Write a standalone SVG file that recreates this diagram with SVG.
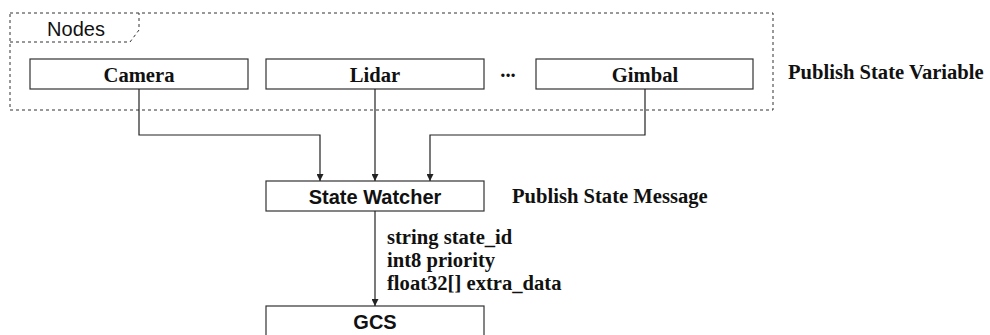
<svg xmlns="http://www.w3.org/2000/svg" width="990" height="335" viewBox="0 0 990 335">
<style>
.box{fill:#fff;stroke:#333;stroke-width:1.2}
.dash{fill:none;stroke:#333;stroke-width:1;stroke-dasharray:3 3}
.serif{font-family:"Liberation Serif","Times New Roman",serif;font-weight:bold;font-size:20.6px;fill:#111}
.sans{font-family:"Liberation Sans",Arial,sans-serif;font-size:20px;fill:#111}
.edge{fill:none;stroke:#222;stroke-width:1.2}
</style>
<defs>
<marker id="arr" viewBox="0 0 10 10" refX="10" refY="5" markerWidth="8" markerHeight="7" markerUnits="userSpaceOnUse" orient="auto">
<path d="M0,0 L10,5 L0,10 Z" fill="#222"/>
</marker>
</defs>
<rect width="990" height="335" fill="#fff"/>
<g id="container">
<rect class="dash" x="10" y="13" width="763" height="97"/>
<path class="dash" d="M10,42 H130 L139,30 V13"/>
<text class="sans" x="76" y="36" text-anchor="middle">Nodes</text>
</g>
<g id="camera">
<rect class="box" x="30" y="59" width="218" height="30"/>
<text class="serif" x="139" y="82" text-anchor="middle">Camera</text>
</g>
<g id="lidar">
<rect class="box" x="266" y="59" width="218" height="30"/>
<text class="serif" x="375" y="82" text-anchor="middle">Lidar</text>
</g>
<g id="ellipsis">
<text class="serif" x="508" y="77" text-anchor="middle">...</text>
</g>
<g id="gimbal">
<rect class="box" x="536" y="59" width="217" height="30"/>
<text class="serif" x="645" y="82" text-anchor="middle">Gimbal</text>
</g>
<g id="label-variable">
<text class="serif" x="788" y="79">Publish State Variable</text>
</g>
<g id="state-watcher">
<rect class="box" x="266" y="181" width="218" height="30"/>
<text class="sans" x="375" y="204" text-anchor="middle" font-weight="bold">State Watcher</text>
</g>
<g id="label-message">
<text class="serif" x="512" y="203">Publish State Message</text>
</g>
<g id="gcs">
<rect class="box" x="266" y="306" width="218" height="40"/>
<text class="sans" x="375" y="329" text-anchor="middle" font-weight="bold">GCS</text>
</g>
<g id="connectors">
<path class="edge" d="M139,89 V135 H320 V181" marker-end="url(#arr)"/>
<path class="edge" d="M375,89 V181" marker-end="url(#arr)"/>
<path class="edge" d="M645,89 V135 H430 V181" marker-end="url(#arr)"/>
<path class="edge" d="M375,211 V306" marker-end="url(#arr)"/>
</g>
<g id="edge-label">
<text class="serif" x="387" y="244">string state_id</text>
<text class="serif" x="387" y="267">int8 priority</text>
<text class="serif" x="387" y="290">float32[] extra_data</text>
</g>
</svg>
